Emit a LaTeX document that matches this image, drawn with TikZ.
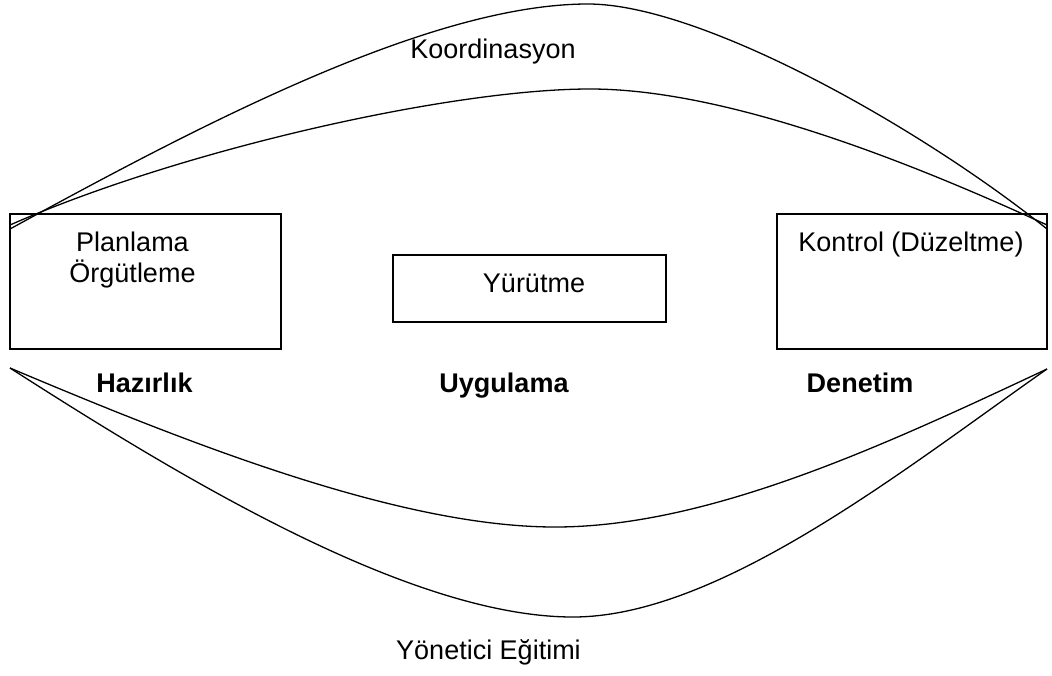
\documentclass[tikz,border=0pt]{standalone}
\usepackage{fontspec}
\setmainfont{Liberation Sans}
\usepackage{tikz}

\begin{document}
\begin{tikzpicture}[x=1pt,y=-1pt,line width=1.3pt,
	every node/.style={font=\fontsize{27}{31}\selectfont, inner sep=0pt},
	stagebox/.style={draw, line width=1.5pt},
	stagename/.style={anchor=base, font=\fontsize{27}{31}\selectfont\bfseries}]
	\useasboundingbox (0,0) rectangle (1052,675);

	\node[stagebox, minimum width=271, minimum height=135] (planbox) at (145.5, 281.5) {};
	\node[stagebox, minimum width=273, minimum height=67] (yurbox) at (529.5, 288.5) {};
	\node[stagebox, minimum width=270, minimum height=135] (konbox) at (912, 281.5) {};

	\node[anchor=north, align=center] (plan) at (132.5, 231.5) {Planlama\\Örgütleme};
	\node[anchor=base] (yur) at (534, 292) {Yürütme};
	\node[anchor=base] (kon) at (911, 251) {Kontrol (Düzeltme)};

	\node[stagename] (haz) at (144.5, 392) {Hazırlık};
	\node[stagename] (uyg) at (504, 392) {Uygulama};
	\node[stagename] (den) at (860, 392) {Denetim};

	\node[anchor=base] (koor) at (493, 58) {Koordinasyon};
	\node[anchor=base] (egit) at (488.5, 659) {Yönetici Eğitimi};

	% koordinasyon
	\coordinate (kaL) at (10, 229);
	\coordinate (kaT) at (588, 4);
	\coordinate (kaR) at (1047, 229);
	\coordinate (kiL) at (10, 225);
	\coordinate (kiT) at (590, 89);
	\coordinate (kiR) at (1047, 225);
	% egitim
	\coordinate (eL) at (10, 368);
	\coordinate (eR) at (1047, 369);
	\coordinate (eiB) at (555, 527);
	\coordinate (eaB) at (573, 617);

	\draw (kaL) .. controls (200, 125) and (430, 4) .. (kaT)
		.. controls (700, 4) and (917, 125) .. (kaR);
	\draw (kiL) .. controls (180, 150) and (450, 89) .. (kiT)
		.. controls (720, 89) and (895, 155) .. (kiR);
	\draw (eL) .. controls (190, 444) and (400, 527) .. (eiB)
		.. controls (710, 527) and (887, 444) .. (eR);
	\draw (eL) .. controls (180, 477) and (410, 617) .. (eaB)
		.. controls (720, 617) and (907, 467) .. (eR);
\end{tikzpicture}
\end{document}
